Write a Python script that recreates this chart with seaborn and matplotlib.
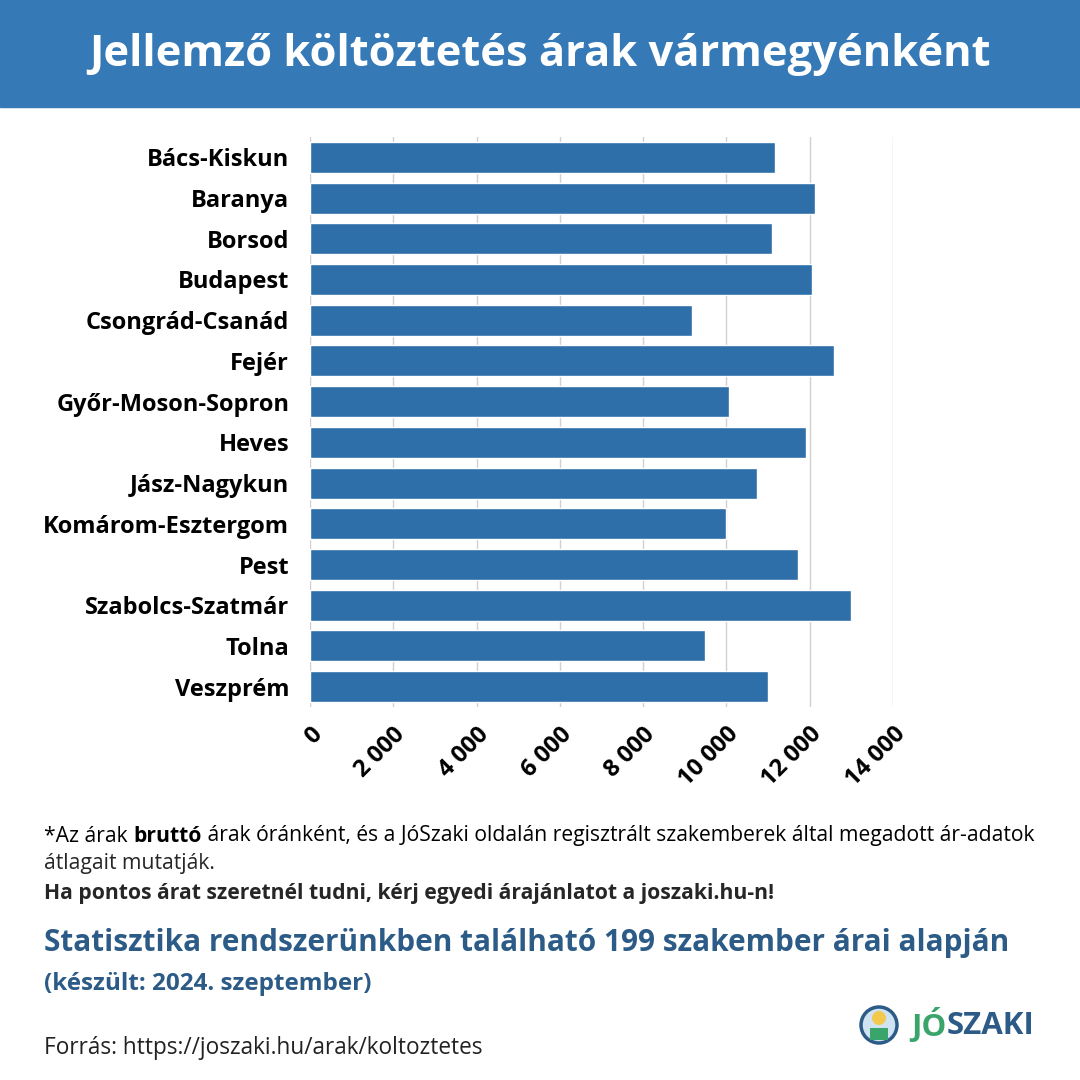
import matplotlib
matplotlib.use("Agg")
import matplotlib.pyplot as plt
import matplotlib.patches as mpatches
import pandas as pd
import seaborn as sns

counties = ["Bács-Kiskun", "Baranya", "Borsod", "Budapest", "Csongrád-Csanád",
            "Fejér", "Győr-Moson-Sopron", "Heves", "Jász-Nagykun",
            "Komárom-Esztergom", "Pest", "Szabolcs-Szatmár", "Tolna", "Veszprém"]
prices = [11160, 12130, 11090, 12050, 9180, 12580, 10060, 11910, 10730,
          9980, 11720, 13000, 9480, 10990]
xticks = [0, 2000, 4000, 6000, 8000, 10000, 12000, 14000]
xtick_labels = ["0", "2 000", "4 000", "6 000", "8 000", "10 000", "12 000", "14 000"]

HEADER = "#3579b7"
BAR = "#2e6ea9"
DARK_BLUE = "#2b5b86"
GREEN = "#3aa56b"

sns.set_theme(style="whitegrid")
plt.rcParams['font.family'] = ['Open Sans', 'DejaVu Sans']

df = pd.DataFrame({"county": counties, "price": prices})

fig = plt.figure(figsize=(10.8, 10.8), dpi=100)
fig.patch.set_facecolor("white")

# header band
fig.patches.append(mpatches.Rectangle((0, 1 - 107 / 1080), 1, 107 / 1080,
                                      transform=fig.transFigure, color=HEADER, zorder=0))
fig.text(0.5, 1 - 55 / 1080, "Jellemző költöztetés árak vármegyénként", color="white",
         fontsize=31.3, fontweight="bold", ha="center", va="center")

ax = fig.add_axes([310 / 1080, 1 - 707 / 1080, 583 / 1080, 570 / 1080])
sns.barplot(data=df, y="county", x="price", color=BAR, saturation=1, width=0.76,
            orient="h", ax=ax)
ax.set_xlim(0, 14000)
ax.set_ylim(len(counties) - 0.5, -0.5)
ax.set_xticks(xticks)
ax.set_xticklabels(xtick_labels, rotation=45, ha="right", rotation_mode="anchor",
                   fontsize=17, fontweight="bold", color="black")
ax.tick_params(axis="x", pad=5)
ax.tick_params(axis="y", pad=9)
for lab in ax.get_yticklabels():
    lab.set_fontsize(17)
    lab.set_fontweight("bold")
    lab.set_color("black")
ax.set_xlabel("")
ax.set_ylabel("")
ax.grid(axis="y", visible=False)
ax.grid(axis="x", color="#d0d0d0", linewidth=1)
for s in ax.spines.values():
    s.set_visible(False)
ax.set_axisbelow(True)

fig.canvas.draw()
renderer = fig.canvas.get_renderer()


def text_row(x, y, pieces, size, color="black"):
    # draw text pieces one after another on a line
    for txt, weight, col in pieces:
        t = fig.text(x, y, txt, fontsize=size, fontweight=weight, color=col,
                     ha="left", va="center")
        bb = t.get_window_extent(renderer)
        x += bb.width / fig.bbox.width


text_row(44 / 1080, 1 - 836 / 1080,
         [("*Az árak ", "normal", "black"), ("bruttó", "bold", "black"),
          (" árak óránként, és a JóSzaki oldalán regisztrált szakemberek által megadott ár-adatok",
           "normal", "black")],
         15.2)
fig.text(44 / 1080, 1 - 863 / 1080, "átlagait mutatják.", fontsize=15.2, va="center")
fig.text(44 / 1080, 1 - 893 / 1080,
         "Ha pontos árat szeretnél tudni, kérj egyedi árajánlatot a joszaki.hu-n!",
         fontsize=15.2, fontweight="bold", va="center")
fig.text(44 / 1080, 1 - 943 / 1080,
         "Statisztika rendszerünkben található 199 szakember árai alapján",
         fontsize=21.4, fontweight="bold", color=DARK_BLUE, va="center")
fig.text(44 / 1080, 1 - 984 / 1080, "(készült: 2024. szeptember)",
         fontsize=17.5, fontweight="bold", color=DARK_BLUE, va="center")
fig.text(44 / 1080, 1 - 1048 / 1080, "Forrás: https://joszaki.hu/arak/koltoztetes",
         fontsize=16.3, color="#222222", va="center")

# logo
fig.patches.append(mpatches.Circle((879 / 1080, 1 - 1025 / 1080), 18 / 1080,
                                   transform=fig.transFigure, facecolor="#cfe3f2",
                                   edgecolor=DARK_BLUE, linewidth=2.5, zorder=2))
fig.patches.append(mpatches.Circle((879 / 1080, 1 - 1018 / 1080), 7 / 1080,
                                   transform=fig.transFigure, facecolor="#f2c94c",
                                   edgecolor="none", zorder=3))
fig.patches.append(mpatches.Rectangle((870 / 1080, 1 - 1040 / 1080), 18 / 1080, 12 / 1080,
                                      transform=fig.transFigure, facecolor=GREEN,
                                      edgecolor="none", zorder=3))
text_row(911 / 1080, 1 - 1026 / 1080,
         [("JÓ", "bold", GREEN), ("SZAKI", "bold", DARK_BLUE)], 22.5)

fig.savefig("out.png", dpi=100)
